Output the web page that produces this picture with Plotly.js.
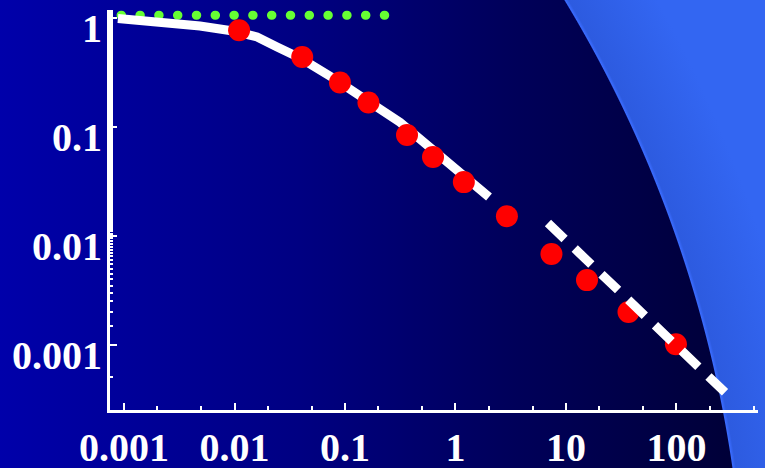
<!DOCTYPE html>
<html>
<head>
<meta charset="utf-8">
<script src="https://cdn.plot.ly/plotly-3.0.1.min.js"></script>
<style>
  html, body { margin: 0; padding: 0; }
  #chart {
    width: 765px; height: 468px;
    background:
      radial-gradient(circle 1250px at -504px 648px, rgba(0,0,0,0) 1249px, #3a6cff 1250px, #2d5be0 1253px, #3366f2 1330px),
      linear-gradient(to right, #0000aa 0px, #000082 300px, #00005c 500px, #000038 730px);
  }
  .scatterlayer .trace:first-child path.js-line { stroke-linecap: round; }
</style>
</head>
<body>
<div id="chart"></div>
<script>
// tick labels
const xTickVals = [0.001, 0.01, 0.1, 1, 10, 100];
const xTickText = ['0.001', '0.01', '0.1', '1', '10', '100'];
const yTickVals = [0.001, 0.01, 0.1, 1];
const yTickText = ['0.001', '0.01', '0.1', '1'];

// red data points
const dotsX = [0.011, 0.041, 0.090, 0.163, 0.364, 0.626, 1.19, 2.92, 7.39, 15.5, 36.8, 98.9];
const dotsY = [0.78, 0.442, 0.258, 0.169, 0.0848, 0.0532, 0.0313, 0.0152, 0.00682, 0.00393, 0.00200, 0.00101];

// white solid curve
const curveX = [0.00088, 0.00212, 0.00487, 0.00969, 0.016, 0.0243, 0.0392, 0.0779, 0.158, 0.315, 0.626, 1.19, 2.01];
const curveY = [1.0, 0.929, 0.853, 0.767, 0.676, 0.547, 0.433, 0.284, 0.178, 0.111, 0.0617, 0.0356, 0.0228];

// white dashed asymptote
const fitX = [6.87, 275];
const fitY = [0.01315, 0.000366];

// green dotted reference level
const refX = [0.00094, 0.235];
const refY = [1.07, 1.07];

const traces = [
  { x: refX, y: refY, mode: 'lines', line: { color: '#66ff33', width: 9, dash: '0.5px,18.3px' }, hoverinfo: 'skip' },
  { x: curveX, y: curveY, mode: 'lines', line: { color: '#ffffff', width: 9 }, hoverinfo: 'skip' },
  { x: dotsX, y: dotsY, mode: 'markers', marker: { color: '#ff0000', size: 22, line: { width: 0 } }, hoverinfo: 'skip' },
  { x: fitX, y: fitY, mode: 'lines', line: { color: '#ffffff', width: 9, dash: '23px,14px' }, hoverinfo: 'skip' }
];

const tickFont = { family: 'Liberation Serif, Times New Roman, serif', size: 40, color: '#ffffff', weight: 'bold' };

const layout = {
  width: 765, height: 468,
  margin: { l: 110, r: 7, t: 10, b: 58 },
  paper_bgcolor: 'rgba(0,0,0,0)',
  plot_bgcolor: 'rgba(0,0,0,0)',
  showlegend: false,
  xaxis: {
    type: 'log', range: [-3.127, 2.738],
    tickmode: 'array', tickvals: xTickVals, ticktext: xTickText,
    showgrid: false, zeroline: false,
    showline: true, linecolor: '#ffffff', linewidth: 3,
    ticks: 'inside', ticklen: 7, tickwidth: 2, tickcolor: '#ffffff',
    minor: { ticks: 'inside', ticklen: 4, tickwidth: 2, tickcolor: '#ffffff', showgrid: false },
    tickfont: tickFont,
    ticklabelstandoff: 0
  },
  yaxis: {
    type: 'log', range: [-3.60, 0.078],
    tickmode: 'array', tickvals: yTickVals, ticktext: yTickText,
    showgrid: false, zeroline: false,
    showline: true, linecolor: '#ffffff', linewidth: 3,
    ticks: 'inside', ticklen: 7, tickwidth: 2, tickcolor: '#ffffff',
    minor: { ticks: 'inside', ticklen: 3, tickwidth: 2, tickcolor: '#ffffff', showgrid: false },
    tickfont: tickFont,
    ticklabelshift: 10,
    ticklabelstandoff: -3
  }
};

Plotly.newPlot('chart', traces, layout, { displayModeBar: false, staticPlot: true });
</script>
</body>
</html>
